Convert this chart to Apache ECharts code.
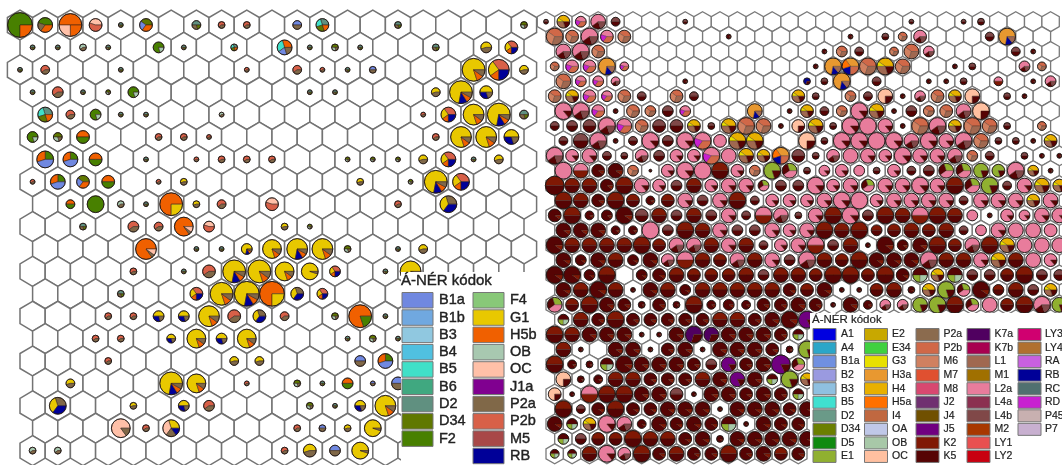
<!DOCTYPE html>
<html lang="hu">
<head>
<meta charset="UTF-8">
<title>Á-NÉR kódok</title>
<style>
  html, body { margin: 0; padding: 0; background: #fff; overflow: hidden; }
  #chart { width: 1062px; height: 465px; filter: blur(0.6px); }
</style>
</head>
<body>
<div id="chart"></div>
<script src="https://cdn.jsdelivr.net/npm/echarts@6/dist/echarts.min.js"></script>
<script>
// legend codes and colours, column by column
var codesL = [
  ['B1a', 'B1b', 'B3', 'B4', 'B5', 'B6', 'D2', 'D34', 'F2'],
  ['F4', 'G1', 'H5b', 'OB', 'OC', 'J1a', 'P2a', 'P2b', 'M5', 'RB']
];
var colorsL = [
  ['#7088e0', '#70a8e0', '#90c8e0', '#50c0e0', '#40e0c8', '#40a880', '#609080', '#607800', '#488000'],
  ['#88c878', '#e8c800', '#f06000', '#a8c8b0', '#ffc0a8', '#800090', '#806848', '#d86048', '#a84848', '#000098']
];
var codesR = [
  ['A1', 'A4', 'B1a', 'B2', 'B3', 'B5', 'D2', 'D34', 'D5', 'E1'],
  ['E2', 'E34', 'G3', 'H3a', 'H4', 'H5a', 'I4', 'OA', 'OB', 'OC'],
  ['P2a', 'P2b', 'M6', 'M7', 'M8', 'J2', 'J4', 'J5', 'K2', 'K5'],
  ['K7a', 'K7b', 'L1', 'M1', 'L2a', 'L4a', 'L4b', 'M2', 'LY1', 'LY2'],
  ['LY3', 'LY4', 'RA', 'RB', 'RC', 'RD', 'P45', 'P7']
];
var colorsR = [
  ['#0000e0', '#2ba6c8', '#7090e0', '#9a9ae0', '#8fc0e0', '#40e0d0', '#6a9a88', '#6b7f00', '#108a10', '#90b030'],
  ['#c8a800', '#40d040', '#e8e000', '#e89830', '#e8b000', '#ff7000', '#c06840', '#c0c8e8', '#a8c8a8', '#ffc0a0'],
  ['#8b6b4e', '#d06848', '#d08060', '#e05030', '#d84870', '#703070', '#705000', '#700080', '#801804', '#560404'],
  ['#500060', '#a80050', '#a06850', '#a07000', '#e87c9c', '#8b3050', '#804848', '#a83800', '#e85050', '#c80010'],
  ['#d00070', '#b07030', '#c860e0', '#000098', '#507070', '#c820d0', '#c8b0b0', '#c8b0d0']
];

// typical cell compositions, slices run counter-clockwise from 3 o'clock
var mixL = {
  a: [['F2', .75], ['H5b', .25]],
  b: [['F2', .45], ['P2a', .2], ['H5b', .35]],
  c: [['H5b', .5], ['OC', .25], ['H5b', .25]],
  d: [['OC', .45], ['P2b', .55]],
  e: [['D34', .4], ['B1a', .25], ['H5b', .35]],
  f: [['F2', 1]],
  g: [['D2', .5], ['P2a', .3], ['D34', .2]],
  G: [['F2', .8], ['OB', .2]],
  h: [['P2b', .6], ['P2a', .4]],
  i: [['H5b', .5], ['F2', .5]],
  j: [['B1a', .5], ['P2a', .5]],
  m: [['F2', .25], ['H5b', .3], ['B1a', .45]],
  n: [['H5b', .3], ['B5', .3], ['B1a', .2], ['P2a', .2]],
  o: [['D34', .5], ['OB', .3], ['P2a', .2]],
  O: [['H5b', .75], ['G1', .25]],
  p: [['OC', .85], ['P2a', .15]],
  q: [['G1', .3], ['OC', .35], ['P2a', .2], ['RB', .15]],
  Q: [['H5b', .85], ['P2a', .05], ['OC', .1]],
  r: [['P2a', .3], ['G1', .35], ['RB', .35]],
  S: [['H5b', .8], ['F2', .2]],
  t: [['D2', .3], ['B5', .25], ['D34', .25], ['H5b', .2]],
  u: [['G1', .55], ['P2a', .45]],
  v: [['P2b', .35], ['G1', .25], ['H5b', .15], ['RB', .25]],
  w: [['OB', .6], ['P2a', .4]],
  W: [['G1', .95], ['P2a', .05]],
  x: [['G1', .5], ['RB', .3], ['P2a', .2]],
  y: [['G1', .8], ['H5b', .1], ['P2a', .1]],
  z: [['G1', .72], ['RB', .12], ['H5b', .08], ['P2a', .08]]
};
var mixR = {
  b: [['RB', .7], ['K5', .3]],
  c: [['L2a', .45], ['RD', .2], ['P2b', .35]],
  d: [['L4b', .5], ['K5', .5]],
  g: [['E1', .8], ['K5', .2]],
  G: [['E1', .3], ['K5', .3], ['L2a', .4]],
  k: [['K5', .9], ['K2', .1]],
  K: [['K2', .5], ['K5', .5]],
  n: [['P2b', .4], ['M6', .3], ['L1', .3]],
  o: [['H3a', .72], ['RB', .14], ['L1', .14]],
  p: [['L2a', .86], ['K5', .14]],
  P: [['L2a', 1]],
  q: [['L2a', .5], ['K2', .5]],
  s: [['L2a', .6], ['K5', .2], ['L4b', .2]],
  t: [['H3a', .35], ['H5a', .2], ['RB', .2], ['P2b', .25]],
  u: [['J5', .82], ['K5', .18]],
  U: [['K7a', .7], ['K5', .3]],
  v: [['OC', .75], ['K5', .25]],
  w: [['K5', .5], ['E1', .25], ['OB', .25]],
  y: [['H4', .4], ['G3', .1], ['L1', .3], ['K5', .2]]
};

// map cells row by row. token = pie total (base 36) + composition letter, - empty hex, x no hex
var rowsL = [
  'ca 7b bc 6d 2g 6e - 4g 3h 3h - 4j 6t - - 3g - - - - 3o',
  '2g 2g 3w 2g - 5G 2g - 3t - 7n 2g 3o 2g - - 3g - 5u 6v',
  '2g 4h - - 2g - - - - 2h - 4h 2h 2g 3j - - - by av 4u',
  '2g 5h 2g 2o 5G - - - - - - 2g 2g - - - 4u bz 6x -',
  'x 7t 4h 5G 2g 2g - - 2w - - - - - - - 2h 7v ay bz 4g',
  '5G 4o 6i - - 3h 3h 2h - - - - - - - - 3h ay ay 7x',
  'x 8m 7m 6i - 2g - 2h 3h 3h 3h - - 2o 2o 2o 4u 7v 2g 4u -',
  '2h 7m 6e 6i - 2h 3u - - - - - - 3u - 2o bz 8v - -',
  'x - 4i 8f 3w 2g bO 3u 4h - 6d - - - - 3h - 8r - - -',
  '- - 3g - 5h 4h 9Q 5d - - 3u 2o - - - - - - - -',
  'x - - - - aQ - 2g 2g 5z 9y az ay 3o - 2g 4u - - - -',
  '- - - - 3h - 2g 6h bz by 9y 8W 5v - 2g aW - - - -',
  'x - - - 3g - - 6v by cz cO 6r 5v - - - - - - - -',
  '- - - 3h 3h 5x 5x ay 6h 6r 4h - 3o bS 2g - - - - -',
  'x - - 3h 3h - 4x 9y 5x 9y - - - 2g 3o 2g - - - - -',
  '- - - 3h - - - - 4u 4u - - - 5j 7m - - - - -',
  'x - 4u - - - bz 9y - 2h - 3o 2g 5i 2j 6j - - - - -',
  '- 8r - - 3u - 5x 5h - - - 3o 2g 5x ay - - - - -',
  'x - - - 9p 3h 8q - - - - 3h 3j 3u 8W - - - - - -',
  '3w 3w - - - - - - - - 3h 6u 5j 8W - - - - - -'
];
var rowsR = [
  '2d 6y 5c 7s 4d - - - 2d - - - - - - - - - - - - 2d - - 2d 3d - - - -',
  '8n 6n 8s 6c 6n - - - - - 2k - - - - - - 2k - 3d 4n 6s - - - 4d 8o - -',
  'x 7s 8s 6n - - - - - - - - - - - - 2k 5n 4d - 4n 7n 5s - - - - 4d 2k -',
  '4n 6c 6c 8o 4c - - - - - - - - - - 2k 8o 8t 8n 8y 7n - - 2k 3d - - 5s 4n',
  'x 7n 5c 5c 4s - - - 2k - - - - - - 3b 3d 8o - 4d - - 2k 2k 3d - 4q - 2k 5s',
  '6n 6y 6c 5c 6n 4d - 6n 4d - - - - - 6y 3d - 5n 4d 7v 2k 5s 6n 6y 7v - 3d 2k -',
  'x 8p 8s 6c 2k 6n 5n 5d 5c - - - 7o - 2k 6y 4d 5n 8p 7y 2k 5d 5n 6n 7s 8v - - - -',
  '4d 5d 6d 8s 7c 6n 6d 6d 6y 3d 7y 8n 7n 2k 6v 7y 3d 8p 8P 7p 2k 8n 8s 6y 8n 7n 3d - 4n',
  'x 4d 7d 8s 2k 4d 8p 5d 8p 8c 6P 8y 8y - - 8v 3d 8p 8p 8P 8p 7s 8p 7p 8s 7n 3d 3d 2k 6y',
  '8s 6p 7p 4d 3d 6s 5d 6p 6p 8c 7P 7y 6y 8t 6d 3d 6s 7P 7p 6p 8p 7p 7p 7s 5n 4d - 3d 2k 2k',
  'x 8P 7q 6k 7k 5n 1k 6p 8p 8P 8K 6p 5n 8g 7G 3d 5p 6p 5P 3d 6p 4d 5d 7G 7G 7g 6g 8s 5y 2k',
  '9K 7K 7K 6k 8K 7p 6p 5d 7K 6p 7p 7p 5G 5d 5d 8p 6p 7p 6G 7p 7p 8p 7p 8K 7G 8g 4d 7p 7y 6y',
  'x 8K 7K 6k 8K 6K 4k 6K 7p 5d 7p 8K 4d 6p 6p 6p 7p 8p 8P 6p 7p 7p 7p 7p 4d 7p 7p 7p 6y 7p',
  '6k 8K 4k 5k 8k 6d 7K 5d 7K 5d 7p 4d 8q 7s 3d 7p 8K 8p 5d 8K 7K 8q 8K 7K 5P 2k 6p 5p 7p 7p',
  'x 7k 7k 7k 4k 4k 8P 5d 8K 7K 7p 5d 5d 7p 6p 7p 8K 7K 8K 5K 6K 7K 6K 7K 4d 5P 7p 7P 7P 6P',
  '8k 7K 7K 7K 7K 8K 6K 7s 7s 7K 7p 7K 4d 6p 7p 8q 5d 7K 2k 8k 5k 7k 8K 6K 7s 8K 7y 7P 7P 7P',
  'x 7k 5k 7k 7K 5k 7k 6s 8q 7K 6K 7s 7K 7p 5d 8s 7K 6K 8K 7k 7k 7k 8s 7K 7K 7p 7y 7K 7P 6p',
  '8k 8k 5k 8K - 5k 6k 7K 6K 6K 6K 7K 5d 7K 7K 6K 8K 8K 6K 8K 6k 7w 6y 7w 5d 5d 6K 8K 5d 5d',
  'x 7k 7K 8k 7K 2k 7k 7K 5k 7K 7K 7K 7K 7K 6k 6K 7k 2k 2k 6K 7K 3k 6y 8g 6G 8k 5K 7K 5d 6y',
  '7G 6K 8K 7k 6k 3k 6k 3k 8K 4k 5k 4k 6k 6k 7k 6k 2k 7k 4k 5s 5s 7g 8g 8K 6G 7P 6K 8K 8s 7g',
  'x 5w 7K 6k 8K 6k 6k 6k 6k 6k 7K 7K 6k 7k 8k 8u',
  '8K 7K 7k 7k 7k 2k 2k 7k 8U 7U 7k 7k 7k 6k 5w',
  'x 7K 2k - 7k 7k 2k 6k 7k 2k 7k 7k 7k 6k 3k 8g',
  '8K 4k 3k 6w 8k 7k 7k 7k 6k 5d 7u 6k 7k 9u 6G',
  'x 7v 3k 4k 7K 7K 6k 6k 6k 7K 7k 7u 7k 5w 8g 6y',
  '6v 2k 8q 8K 8K 7k 7k 6d 2k 7k 7k 6k 7k 6k 5w',
  'x 8K 4d 6k 8K 6k 6k 7k 7k 7k 2k 7k 7k 7k 6k 7k',
  '7k 5w 6y 8p 7s 4k 7k 6k 7k 6k 7w 2k 7k 6k 6k',
  'x 5w 5d 6K 6K 8K 7K 7K 6k 7k 3k 7k 7k 7k 7k 7k',
  '4w 4w 7K 8p 6s 8K 6k 7K 6k 6k 8K 6k 7k 6K 6k'
];

function colorTable(codes, colors) {
  var t = {};
  codes.forEach(function (col, c) {
    col.forEach(function (code, i) { t[code] = colors[c][i]; });
  });
  return t;
}

function parseRows(rows) {
  var hexes = [], pies = [];
  rows.forEach(function (row, r) {
    row.split(' ').forEach(function (tok, i) {
      if (tok === 'x') return;
      var x = i + (r % 2 ? 0.5 : 0);
      hexes.push([x, r]);
      if (tok !== '-') {
        pies.push({ value: [x, r, parseInt(tok.slice(0, -1), 36)], mix: tok.slice(-1) });
      }
    });
  });
  return { hexes: hexes, pies: pies };
}

function hexRender(hexColor, hexWidth) {
  return function (params, api) {
    var c = api.coord([api.value(0), api.value(1)]);
    var s = api.size([1, 1]);
    var w = s[0] / 2, R = s[1] / 1.5;
    return {
      type: 'polygon',
      shape: { points: [
        [c[0], c[1] - R], [c[0] + w, c[1] - R / 2], [c[0] + w, c[1] + R / 2],
        [c[0], c[1] + R], [c[0] - w, c[1] + R / 2], [c[0] - w, c[1] - R / 2]
      ] },
      style: { fill: '#fff', stroke: hexColor, lineWidth: hexWidth }
    };
  };
}

function pieRender(pies, mixes, colors, sliceLine) {
  return function (params, api) {
    var c = api.coord([api.value(0), api.value(1)]);
    var r = api.value(2) + 0.4;
    var a = 0;
    var children = mixes[pies[params.dataIndex].mix].map(function (part) {
      var next = a + part[1] * Math.PI * 2;
      var el = {
        type: 'sector',
        shape: { cx: c[0], cy: c[1], r: r, r0: 0, startAngle: -a, endAngle: -next, clockwise: false },
        style: { fill: colors[part[0]], stroke: '#2a1a14', lineWidth: sliceLine }
      };
      a = next;
      return el;
    });
    // dark rim round every pie
    children.push({
      type: 'circle',
      shape: { cx: c[0], cy: c[1], r: r },
      style: { fill: 'none', stroke: '#1e1614', lineWidth: 0.9 }
    });
    return { type: 'group', children: children };
  };
}

function legendItems(box, title, codes, colors, opt) {
  var items = [{ type: 'rect', shape: box, style: { fill: '#fff' }, z: 50 }];
  items.push({
    type: 'text', x: opt.titleX, y: opt.titleY, z: 51,
    style: { text: title, fill: '#222', stroke: '#222', lineWidth: opt.textLine, font: opt.titleFont, textVerticalAlign: 'middle' }
  });
  codes.forEach(function (col, c) {
    col.forEach(function (code, i) {
      var y = opt.top + i * opt.step;
      items.push({
        type: 'rect', z: 51,
        shape: { x: opt.swatchX[c], y: y, width: opt.swatchW, height: opt.swatchH },
        style: { fill: colors[c][i], stroke: '#777', lineWidth: 1 }
      });
      items.push({
        type: 'text', x: opt.labelX[c], y: y + opt.swatchH / 2, z: 51,
        style: { text: code, fill: '#222', stroke: '#222', lineWidth: opt.textLine, font: opt.labelFont, textVerticalAlign: 'middle' }
      });
    });
  });
  return items;
}

var left = parseRows(rowsL), right = parseRows(rowsR);
var hiddenAxis = { type: 'value', show: false, scale: true };

var option = {
  animation: false,
  backgroundColor: '#fff',
  grid: [
    { left: 20, top: 25, width: 504, height: 425.6 },
    { left: 546, top: 21.7, width: 504.6, height: 432.1 }
  ],
  xAxis: [
    Object.assign({ gridIndex: 0, min: 0, max: 20 }, hiddenAxis),
    Object.assign({ gridIndex: 1, min: 0, max: 29 }, hiddenAxis)
  ],
  yAxis: [
    Object.assign({ gridIndex: 0, min: 0, max: 19, inverse: true }, hiddenAxis),
    Object.assign({ gridIndex: 1, min: 0, max: 29, inverse: true }, hiddenAxis)
  ],
  series: [
    { type: 'custom', xAxisIndex: 0, yAxisIndex: 0, z: 1, silent: true, clip: false,
      data: left.hexes, renderItem: hexRender('#737373', 1.5) },
    { type: 'custom', xAxisIndex: 0, yAxisIndex: 0, z: 2, silent: true, clip: false,
      data: left.pies, renderItem: pieRender(left.pies, mixL, colorTable(codesL, colorsL), 0.5) },
    { type: 'custom', xAxisIndex: 1, yAxisIndex: 1, z: 1, silent: true, clip: false,
      data: right.hexes, renderItem: hexRender('#7a7a7a', 1.3) },
    { type: 'custom', xAxisIndex: 1, yAxisIndex: 1, z: 2, silent: true, clip: false,
      data: right.pies, renderItem: pieRender(right.pies, mixR, colorTable(codesR, colorsR), 0.3) }
  ],
  graphic: legendItems({ x: 401, y: 272, width: 137, height: 193 }, 'Á-NÉR kódok', codesL, colorsL, {
    titleX: 401, titleY: 281, titleFont: '15px "Liberation Sans"', textLine: 0.4,
    top: 292.5, step: 17.3, swatchX: [402, 473], swatchW: 31, swatchH: 15.5,
    labelX: [439, 510], labelFont: '14.5px "Liberation Sans"'
  }).concat(legendItems({ x: 810, y: 313, width: 252, height: 152 }, 'Á-NÉR kódok', codesR, colorsR, {
    titleX: 812, titleY: 320, titleFont: '11.5px "Liberation Sans"', textLine: 0.2,
    top: 328.5, step: 13.55, swatchX: [813, 864.5, 916, 967, 1018], swatchW: 23, swatchH: 12,
    labelX: [841, 892, 943.5, 994.5, 1045], labelFont: '10.5px "Liberation Sans"'
  }))
};

var chart = echarts.init(document.getElementById('chart'));
chart.setOption(option);
</script>
</body>
</html>
